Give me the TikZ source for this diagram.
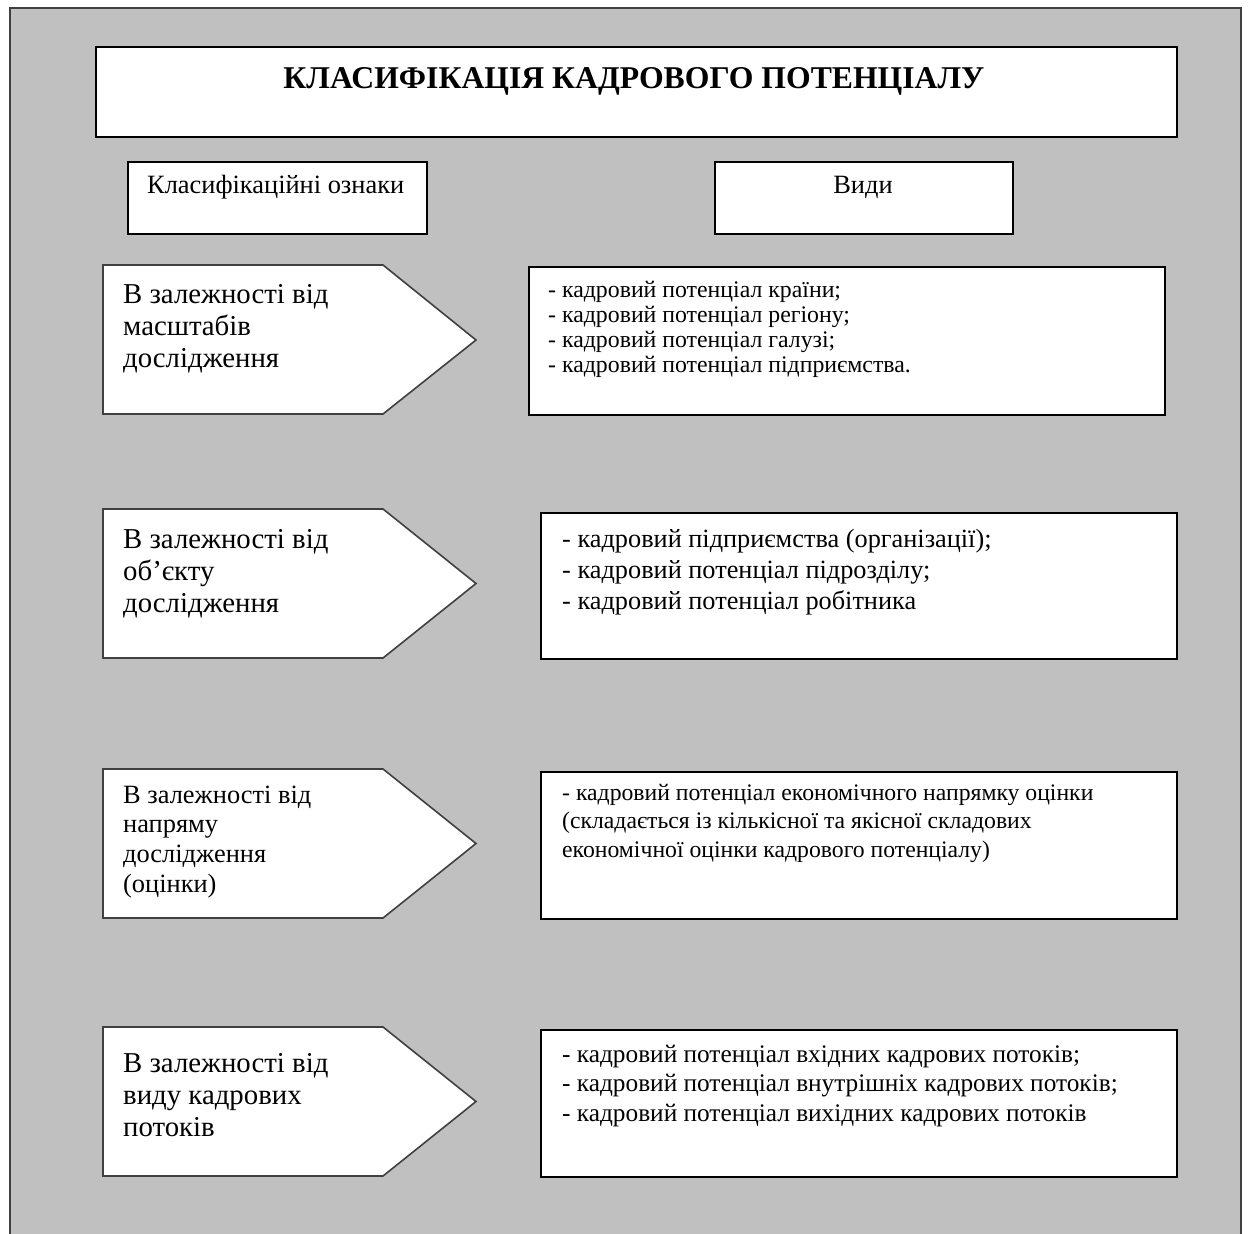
\documentclass[tikz,border=0pt]{standalone}
\usepackage{fontspec}
\setmainfont{Liberation Serif}
\definecolor{panel}{HTML}{C0C0C0}
\definecolor{rim}{HTML}{404040}
\newcommand\txtblock[1]{\parbox[t]{640pt}{\raggedright #1}}
\begin{document}
\begin{tikzpicture}[x=1pt,y=-1pt,
  box/.style={draw=black,line width=1.6pt,fill=white,inner sep=0pt,anchor=north west},
  arrowbox/.style={draw=rim,line width=1.6pt,fill=white,line join=miter},
  txt/.style={anchor=base west,inner sep=0pt},
  head/.style={font=\fontsize{31.7}{36}\selectfont\bfseries},
  colhead/.style={font=\fontsize{26.4}{30}\selectfont},
  sign/.style={txt,font=\fontsize{28.8}{32.3}\selectfont},
  signs/.style={txt,font=\fontsize{26.4}{29.7}\selectfont},
  kinds/.style={txt,font=\fontsize{24}{30}\selectfont}]
\useasboundingbox (0,0) rectangle (1248,1234);
\fill[white] (0,0) rectangle (1248,1234);
% grey panel, open at the bottom edge
\fill[panel] (10,8) rectangle (1241,1234);
\draw[rim,line width=1.6pt] (10,1234) -- (10,8) -- (1241,8) -- (1241,1234);

% title
\node[box,minimum width=1081pt,minimum height=90pt] (title) at (95,46) {};
\node[head,anchor=base,inner sep=0pt] (titletext) at (634,88) {КЛАСИФІКАЦІЯ КАДРОВОГО ПОТЕНЦІАЛУ};

% column headings
\node[box,minimum width=299pt,minimum height=72pt] (hsign) at (127,161) {};
\node[colhead,txt] (hsigntext) at (147,193) {Класифікаційні ознаки};
\node[box,minimum width=298pt,minimum height=72pt] (hkind) at (714,161) {};
\node[colhead,anchor=base,inner sep=0pt] (hkindtext) at (863,193) {Види};

% row 1
\draw[arrowbox] (103,265) coordinate (s1) -- (383,265) -- (476,340) -- (383,414) -- (103,414) -- cycle;
\node[sign] (s1text) at (123,303) {\txtblock{В залежності від\\ масштабів\\ дослідження}};
\node[box,minimum width=636pt,minimum height=148pt] (k1) at (528,266) {};
\node[kinds,font=\fontsize{23.8}{25}\selectfont] (k1text) at (548,297) {\txtblock{- кадровий потенціал країни;\\ - кадровий потенціал регіону;\\ - кадровий потенціал галузі;\\ - кадровий потенціал підприємства.}};

% row 2
\draw[arrowbox] (103,509) coordinate (s2) -- (383,509) -- (476,583.5) -- (383,658) -- (103,658) -- cycle;
\node[sign] (s2text) at (123,548) {\txtblock{В залежності від\\ об'єкту\\ дослідження}};
\node[box,minimum width=636pt,minimum height=146pt] (k2) at (540,512) {};
\node[kinds,font=\fontsize{26.3}{31}\selectfont] (k2text) at (562,547) {\txtblock{- кадровий підприємства (організації);\\ - кадровий потенціал підрозділу;\\ - кадровий потенціал робітника}};

% row 3
\draw[arrowbox] (103,769) coordinate (s3) -- (383,769) -- (476,843.5) -- (383,918) -- (103,918) -- cycle;
\node[signs] (s3text) at (123,803) {\txtblock{В залежності від\\ напряму\\ дослідження\\ (оцінки)}};
\node[box,minimum width=636pt,minimum height=147pt] (k3) at (540,771) {};
\node[kinds,font=\fontsize{23.7}{28.5}\selectfont] (k3text) at (562,800) {\txtblock{- кадровий потенціал економічного напрямку оцінки\\ (складається із кількісної та якісної складових\\ економічної оцінки кадрового потенціалу)}};

% row 4
\draw[arrowbox] (103,1027) coordinate (s4) -- (383,1027) -- (476,1101.5) -- (383,1176) -- (103,1176) -- cycle;
\node[sign] (s4text) at (123,1072) {\txtblock{В залежності від\\ виду кадрових\\ потоків}};
\node[box,minimum width=636pt,minimum height=147pt] (k4) at (540,1029) {};
\node[kinds,font=\fontsize{25.3}{29.5}\selectfont] (k4text) at (562,1062) {\txtblock{- кадровий потенціал вхідних кадрових потоків;\\ - кадровий потенціал внутрішніх кадрових потоків;\\ - кадровий потенціал вихідних кадрових потоків}};
\end{tikzpicture}
\end{document}
